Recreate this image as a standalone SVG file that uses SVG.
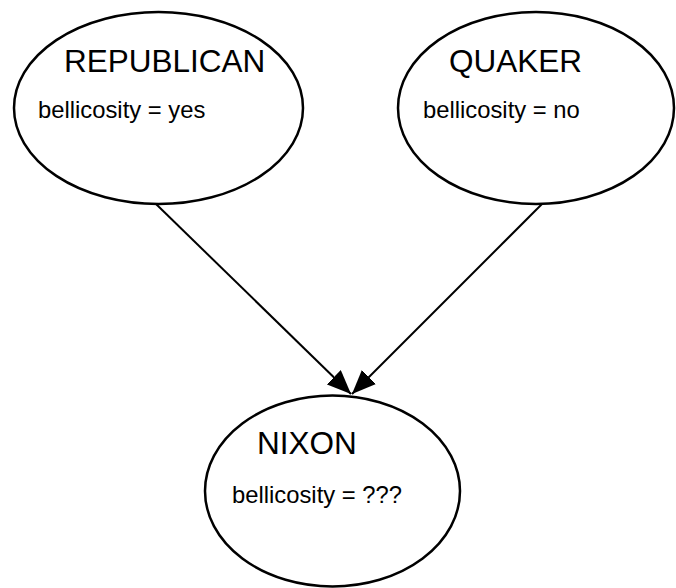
<svg xmlns="http://www.w3.org/2000/svg" width="676" height="588" viewBox="0 0 676 588">
  <style>
    .node ellipse { fill: #ffffff; stroke: #000000; stroke-width: 2.5; }
    .title { font-family: "Liberation Sans", Arial, sans-serif; font-size: 31.5px; fill: #000000; }
    .attr { font-family: "Liberation Sans", Arial, sans-serif; font-size: 23.8px; fill: #000000; }
    .edge { stroke: #000000; stroke-width: 2; fill: none; marker-end: url(#arrow); }
  </style>
  <defs>
    <marker id="arrow" viewBox="0 0 24 20" refX="24" refY="10" markerWidth="24" markerHeight="20" markerUnits="userSpaceOnUse" orient="auto">
      <path d="M0,0 L24,10 L0,20 z" fill="#000000"/>
    </marker>
  </defs>
  <rect width="676" height="588" fill="#ffffff"/>

  <g id="connectors">
    <line class="edge" x1="156" y1="204" x2="351" y2="394"/>
    <line class="edge" x1="542" y1="204" x2="352" y2="394"/>
  </g>

  <g id="republican" class="node">
    <ellipse cx="158.5" cy="108" rx="144.5" ry="96"/>
    <text class="title" x="64" y="72">REPUBLICAN</text>
    <text class="attr" x="38" y="118">bellicosity = yes</text>
  </g>

  <g id="quaker" class="node">
    <ellipse cx="536" cy="108" rx="138" ry="96"/>
    <text class="title" x="449" y="72">QUAKER</text>
    <text class="attr" x="423" y="118">bellicosity = no</text>
  </g>

  <g id="nixon" class="node">
    <ellipse cx="332.5" cy="491" rx="127.5" ry="95.5"/>
    <text class="title" x="257" y="454">NIXON</text>
    <text class="attr" x="232" y="503">bellicosity = ???</text>
  </g>
</svg>
